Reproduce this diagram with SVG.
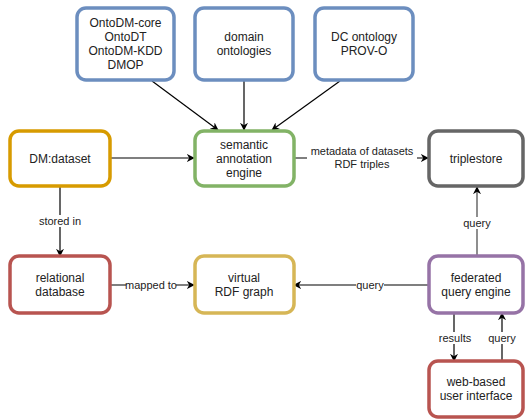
<svg xmlns="http://www.w3.org/2000/svg" width="529" height="419" viewBox="0 0 529 419">
<defs>
<marker id="arr" viewBox="0 0 10 10" refX="9" refY="5" markerWidth="8" markerHeight="8" orient="auto-start-reverse" markerUnits="userSpaceOnUse">
<path d="M0,0 L10,5 L0,10 L3,5 Z" fill="#000"/>
</marker>
</defs>
<style>
.n rect{fill:#fff;stroke-width:3.5}
.t{font-family:"Liberation Sans",Arial,sans-serif;font-size:12px;fill:#222;text-anchor:middle}
.l{font-family:"Liberation Sans",Arial,sans-serif;font-size:11px;fill:#222;text-anchor:middle}
.e line,.e path{stroke:#000;stroke-width:1.2;fill:none}
.lb{fill:#fff}
.blue{stroke:#6c8ebf}.orange{stroke:#d79b00}.green{stroke:#82b366}.gray{stroke:#666}.red{stroke:#b85450}.yellow{stroke:#d6b656}.purple{stroke:#9673a6}
</style>
<g id="edges" class="e">
<line x1="152" y1="81" x2="218" y2="130" marker-end="url(#arr)"/>
<line x1="244" y1="81" x2="244" y2="130" marker-end="url(#arr)"/>
<line x1="340" y1="81" x2="272" y2="130" marker-end="url(#arr)"/>
<line x1="110" y1="158" x2="194" y2="158" marker-end="url(#arr)"/>
<line x1="294" y1="158" x2="428" y2="158" marker-end="url(#arr)"/>
<line x1="60" y1="186" x2="60" y2="256" marker-end="url(#arr)"/>
<line x1="110" y1="285" x2="194" y2="285" marker-end="url(#arr)"/>
<line x1="428" y1="285" x2="294" y2="285" marker-end="url(#arr)"/>
<line x1="477" y1="256" x2="477" y2="187" marker-end="url(#arr)" style="stroke:#444"/>
<line x1="454" y1="313" x2="454" y2="361" marker-end="url(#arr)"/>
<line x1="502" y1="361" x2="502" y2="313" marker-end="url(#arr)"/>
<rect class="lb" x="307" y="143" width="110" height="28"/>
<text class="l" x="362" y="155">metadata of datasets</text>
<text class="l" x="362" y="168">RDF triples</text>
<rect class="lb" x="38" y="215" width="44" height="12"/>
<text class="l" x="60" y="225">stored in</text>
<rect class="lb" x="126" y="279" width="50" height="12"/>
<text class="l" x="151" y="289">mapped to</text>
<rect class="lb" x="356" y="279" width="28" height="12"/>
<text class="l" x="370" y="289">query</text>
<rect class="lb" x="463" y="217" width="28" height="12"/>
<text class="l" x="477" y="227">query</text>
<rect class="lb" x="437" y="332" width="36" height="12"/>
<text class="l" x="455" y="342">results</text>
<rect class="lb" x="488" y="332" width="28" height="12"/>
<text class="l" x="502" y="342">query</text>
</g>
<g id="ontodm" class="n"><rect class="blue" x="77" y="8" width="97" height="72" rx="9"/>
<text class="t" x="125.5" y="27">OntoDM-core</text><text class="t" x="125.5" y="41">OntoDT</text><text class="t" x="125.5" y="55">OntoDM-KDD</text><text class="t" x="125.5" y="69">DMOP</text></g>
<g id="domain" class="n"><rect class="blue" x="195" y="8" width="98" height="72" rx="9"/>
<text class="t" x="244" y="41">domain</text><text class="t" x="244" y="55">ontologies</text></g>
<g id="dc" class="n"><rect class="blue" x="315" y="8" width="98" height="72" rx="9"/>
<text class="t" x="364" y="41">DC ontology</text><text class="t" x="364" y="55">PROV-O</text></g>
<g id="dataset" class="n"><rect class="orange" x="10" y="131" width="100" height="55" rx="9"/>
<text class="t" x="60" y="163">DM:dataset</text></g>
<g id="semantic" class="n"><rect class="green" x="195" y="131" width="99" height="55" rx="9"/>
<text class="t" x="244" y="149">semantic</text><text class="t" x="244" y="163">annotation</text><text class="t" x="244" y="177">engine</text></g>
<g id="triplestore" class="n"><rect class="gray" x="429" y="131" width="94" height="55" rx="9"/>
<text class="t" x="476" y="163">triplestore</text></g>
<g id="relational" class="n"><rect class="red" x="10" y="256" width="100" height="57" rx="9"/>
<text class="t" x="60" y="282">relational</text><text class="t" x="60" y="296">database</text></g>
<g id="virtual" class="n"><rect class="yellow" x="195" y="256" width="99" height="57" rx="9"/>
<text class="t" x="244" y="282">virtual</text><text class="t" x="244" y="296">RDF graph</text></g>
<g id="federated" class="n"><rect class="purple" x="429" y="256" width="94" height="57" rx="9"/>
<text class="t" x="476" y="282">federated</text><text class="t" x="476" y="296">query engine</text></g>
<g id="webui" class="n"><rect class="red" x="429" y="361" width="94" height="56" rx="9"/>
<text class="t" x="476" y="386">web-based</text><text class="t" x="476" y="400">user interface</text></g>
</svg>
